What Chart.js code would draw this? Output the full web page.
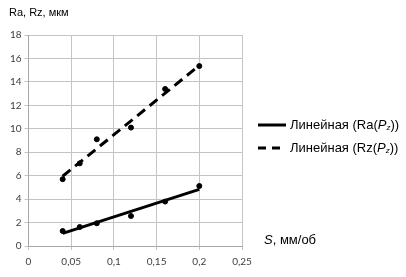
<!DOCTYPE html>
<html>
<head>
<meta charset="utf-8">
<script src="https://cdn.jsdelivr.net/npm/chart.js@4/dist/chart.umd.min.js"></script>
<style>
  html, body { margin: 0; padding: 0; background: #fff; }
  canvas { display: block; }
</style>
</head>
<body>
<canvas id="roughChart" width="406" height="277"></canvas>
<script>
// measured points
const feedS = [0.04, 0.06, 0.08, 0.12, 0.16, 0.2];
const raValues = [1.28, 1.62, 1.94, 2.56, 3.79, 5.12];
const rzValues = [5.7, 7.05, 9.1, 10.1, 13.4, 15.35];
// linear trend lines (ends)
const trendS = [0.04, 0.2];
const raTrend = [1.08, 4.83];
const rzTrend = [5.95, 15.4];
// axis labels
const xTickLabels = ['0', '0,05', '0,1', '0,15', '0,2', '0,25'];
const yTitle = 'Ra, Rz, мкм';
const xTitle = ['S', ', мм/об'];
const legendItems = [
  { name: 'Ra', dash: [] },
  { name: 'Rz', dash: [8, 6] }
];

const pts = (xs, ys) => xs.map((x, i) => ({ x: x, y: ys[i] }));
const FONT = '"Liberation Sans", Arial, sans-serif';

const textPlugin = {
  id: 'textPlugin',
  afterDraw(chart) {
    const c = chart.ctx;
    c.save();
    c.fillStyle = '#000';
    c.textBaseline = 'middle';
    c.textAlign = 'left';

    c.font = '11px ' + FONT;
    c.fillText(yTitle, 9, 13);

    // x axis title with italic S
    let x = 264;
    c.font = 'italic 13px ' + FONT;
    c.fillText(xTitle[0], x, 240);
    x += c.measureText(xTitle[0]).width;
    c.font = '13px ' + FONT;
    c.fillText(xTitle[1], x, 240);

    // legend
    legendItems.forEach((item, i) => {
      const y = 125 + i * 23;
      c.strokeStyle = '#000';
      c.lineWidth = 3;
      c.setLineDash(item.dash);
      c.beginPath();
      c.moveTo(258, y);
      c.lineTo(286, y);
      c.stroke();
      c.setLineDash([]);

      let tx = 290;
      const parts = [
        ['13px ' + FONT, 'Линейная (' + item.name + '(', 0],
        ['italic 13px ' + FONT, 'P', 0],
        ['italic 8px ' + FONT, 'z', 3],
        ['13px ' + FONT, '))', 0]
      ];
      parts.forEach(p => {
        c.font = p[0];
        c.fillText(p[1], tx, y + p[2]);
        tx += c.measureText(p[1]).width;
      });
    });
    c.restore();
  }
};

new Chart(document.getElementById('roughChart').getContext('2d'), {
  type: 'scatter',
  data: {
    datasets: [
      {
        label: 'Ra',
        data: pts(feedS, raValues),
        backgroundColor: '#000',
        borderColor: '#000',
        pointRadius: 2.5,
        showLine: false
      },
      {
        label: 'Rz',
        data: pts(feedS, rzValues),
        backgroundColor: '#000',
        borderColor: '#000',
        pointRadius: 2.5,
        showLine: false
      },
      {
        label: 'Линейная (Ra(Pz))',
        data: pts(trendS, raTrend),
        borderColor: '#000',
        borderWidth: 3,
        pointRadius: 0,
        showLine: true
      },
      {
        label: 'Линейная (Rz(Pz))',
        data: pts(trendS, rzTrend),
        borderColor: '#000',
        borderWidth: 3,
        borderDash: [10, 6],
        pointRadius: 0,
        showLine: true
      }
    ]
  },
  options: {
    responsive: false,
    animation: false,
    layout: { padding: { top: 35, right: 164, left: 0, bottom: 0 } },
    plugins: {
      legend: { display: false },
      tooltip: { enabled: false }
    },
    scales: {
      x: {
        type: 'linear',
        min: 0,
        max: 0.25,
        grid: { color: '#c4c4c4', tickLength: 4 },
        border: { color: '#a6a6a6' },
        ticks: {
          stepSize: 0.05,
          color: '#404040',
          font: { size: 10, family: 'Lato, "Open Sans", sans-serif' },
          maxRotation: 0,
          padding: 6,
          callback: (v, i) => xTickLabels[i]
        },
        afterFit: s => { s.height = 31; }
      },
      y: {
        min: 0,
        max: 18,
        grid: { color: '#c4c4c4', tickLength: 4 },
        border: { color: '#a6a6a6' },
        ticks: {
          stepSize: 2,
          color: '#404040',
          font: { size: 10, family: 'Lato, "Open Sans", sans-serif' },
          padding: 3
        },
        afterFit: s => { s.width = 28.5; }
      }
    }
  },
  plugins: [textPlugin]
});
</script>
</body>
</html>
